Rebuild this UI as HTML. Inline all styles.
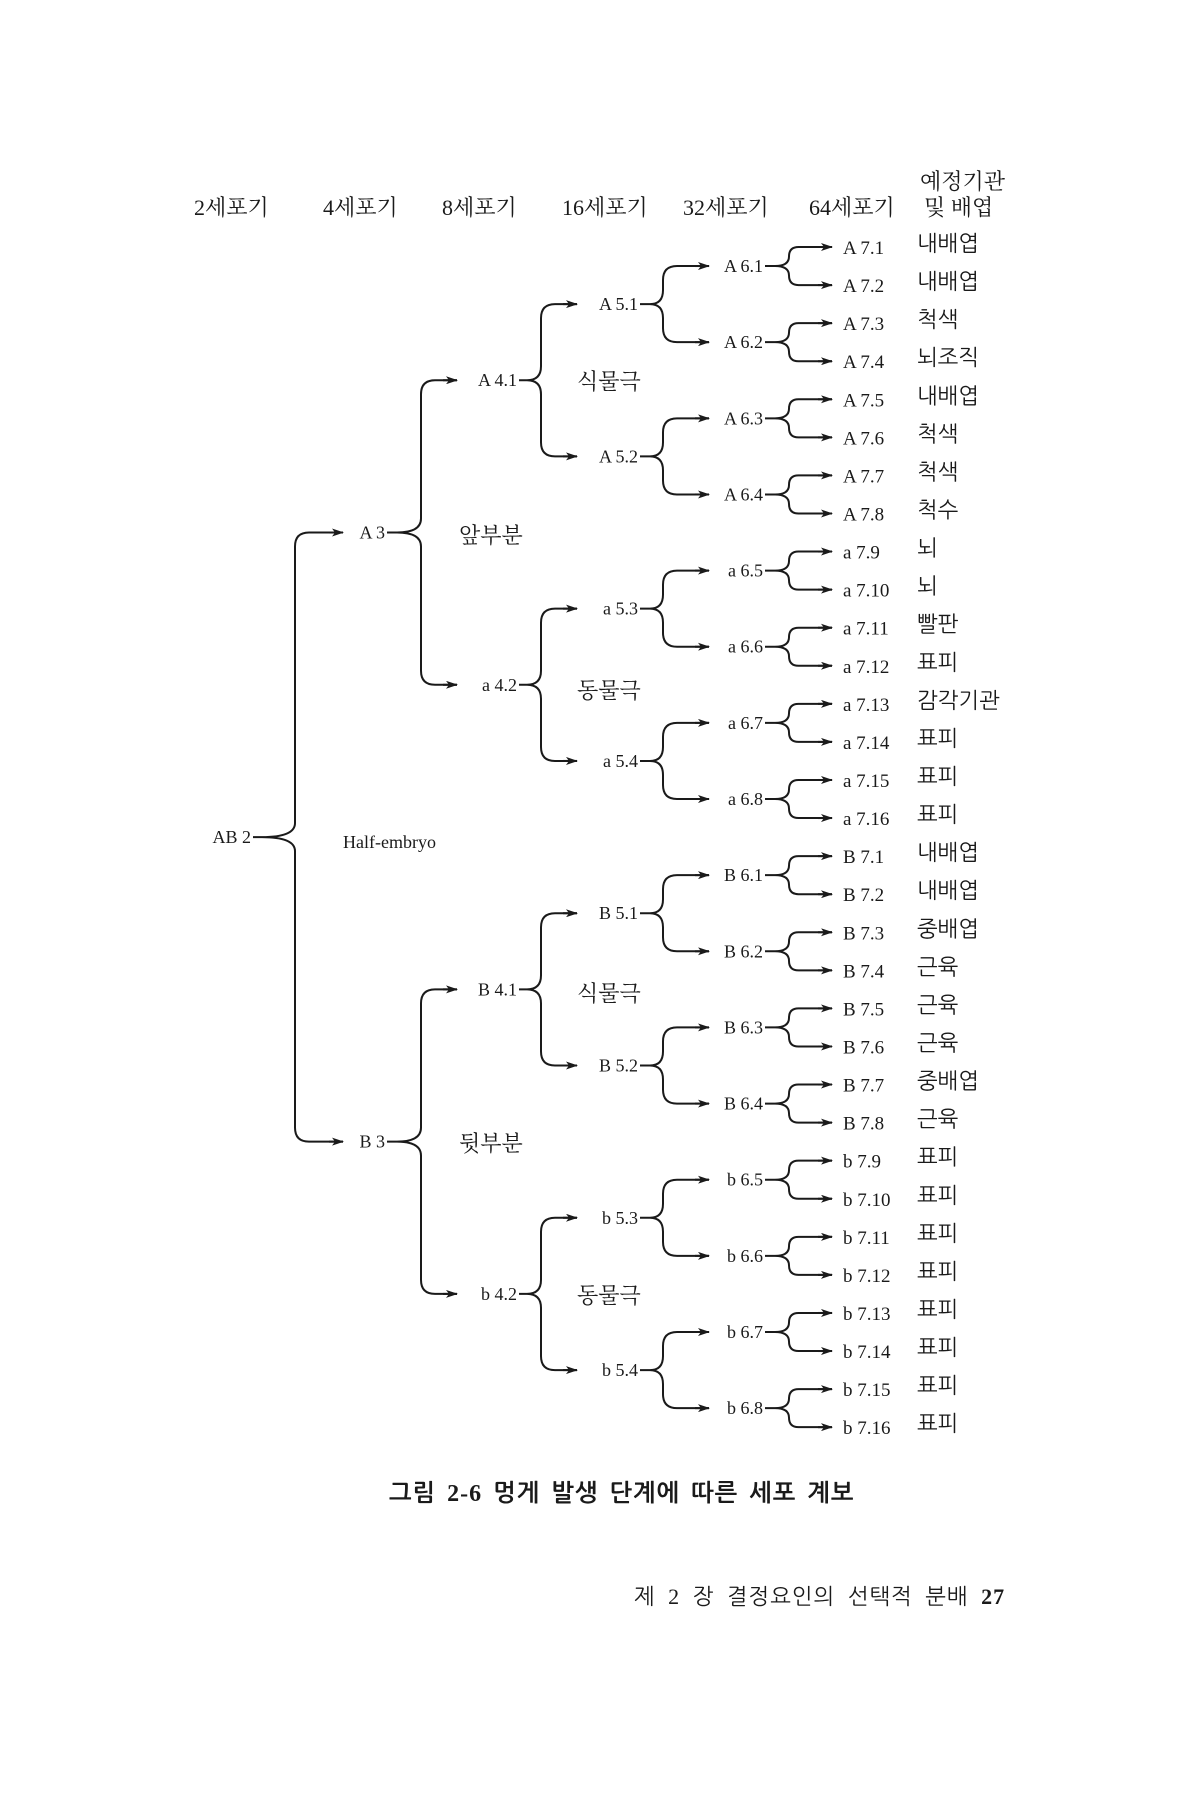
<!DOCTYPE html>
<html><head><meta charset="utf-8">
<style>
html,body{margin:0;padding:0;background:#fff;}
svg{display:block}
text{font-family:"Liberation Serif","Noto Serif CJK SC","Noto Sans CJK KR",serif;fill:#1a1a1a}
.k{font-family:"Liberation Serif","NanumGothic","Noto Sans CJK KR",serif}
</style></head>
<body>
<svg id="s" width="1200" height="1800" viewBox="0 0 1200 1800" xmlns="http://www.w3.org/2000/svg">
<defs><marker id="ar" markerWidth="12" markerHeight="8" refX="11" refY="4" orient="auto" markerUnits="userSpaceOnUse"><path d="M0,0 L12,4 L0,8 L3,4z" fill="#1a1a1a"/></marker></defs>
<g transform="translate(0,4)">
<g class="k" font-size="22">
<text x="194" y="211">2세포기</text>
<text x="323" y="211">4세포기</text>
<text x="442" y="211">8세포기</text>
<text x="562" y="211">16세포기</text>
<text x="683" y="211">32세포기</text>
<text x="809" y="211">64세포기</text>
<text x="920" y="185">예정기관</text>
<text x="924" y="211">및 배엽</text>
<text x="459" y="539">앞부분</text>
<text x="459" y="1147">뒷부분</text>
<text x="577" y="385">식물극</text>
<text x="577" y="694">동물극</text>
<text x="577" y="997">식물극</text>
<text x="577" y="1299">동물극</text>
</g>
<text x="343" y="844" font-size="18">Half-embryo</text>
<text x="389" y="1497" font-size="24" font-weight="bold" class="k" letter-spacing="1" word-spacing="4">그림 2-6  멍게 발생 단계에 따른 세포 계보</text>
<text x="634" y="1600" font-size="22" class="k" letter-spacing="1" word-spacing="6">제 2 장  결정요인의 선택적 분배  <tspan font-weight="bold">27</tspan></text>
<g id="g"></g>
</g>
</svg>
<script>
var g=document.getElementById('g'),NS='http://www.w3.org/2000/svg';
function el(t,a,txt){var e=document.createElementNS(NS,t);for(var k in a)e.setAttribute(k,a[k]);if(txt)e.textContent=txt;g.appendChild(e);return e;}
function Y(i){return 243+i*38.07;}
var organs=["내배엽","내배엽","척색","뇌조직","내배엽","척색","척색","척수","뇌","뇌","빨판","표피","감각기관","표피","표피","표피","내배엽","내배엽","중배엽","근육","근육","근육","중배엽","근육","표피","표피","표피","표피","표피","표피","표피","표피"];
var geo={2:[251,262,295,343],3:[385,397,421,457],4:[517,527,541,577],5:[638,650,663,709],6:[763,775,789,832]};
function lbl(level,idx){
 var half=idx<(Math.pow(2,level-2))/2?0:1;
 var n=Math.pow(2,level-2), q=idx%(n/2), quarter=q<n/4;
 var pfx=half==0?(quarter?'A':'a'):(quarter?'B':'b');
 if(level==2)return 'AB 2';
 if(level==3)return (half==0?'A':'B')+' 3';
 return pfx+' '+level+'.'+(q+1);
}
function ny(level,idx){var span=Math.pow(2,7-level);return (Y(idx*span)+Y(idx*span+span-1))/2;}
for(var L=2;L<=6;L++){
 var n=Math.pow(2,L-2),G=geo[L];
 for(var i=0;i<n;i++){
  var y=ny(L,i),y1=ny(L+1,2*i),y2=ny(L+1,2*i+1);
  el('text',{x:G[0],y:y+6,'font-size':18,'text-anchor':'end'},lbl(L,i));
  var v=G[2],r=Math.min(14,(y2-y1)/4),t=G[1];
  var d='M'+(G[0]+2)+','+y+' L'+t+','+y+' Q'+v+','+y+' '+v+','+(y-r)+' L'+v+','+(y1+r)+' Q'+v+','+y1+' '+(v+r)+','+y1+' L'+G[3]+','+y1+
   ' M'+t+','+y+' Q'+v+','+y+' '+v+','+(y+r)+' L'+v+','+(y2-r)+' Q'+v+','+y2+' '+(v+r)+','+y2+' L'+G[3]+','+y2;
  el('path',{d:d,fill:'none',stroke:'#1a1a1a','stroke-width':2});
  el('line',{x1:G[3]-14,y1:y1,x2:G[3],y2:y1,stroke:'#1a1a1a','stroke-width':2,'marker-end':'url(#ar)'});
  el('line',{x1:G[3]-14,y1:y2,x2:G[3],y2:y2,stroke:'#1a1a1a','stroke-width':2,'marker-end':'url(#ar)'});
 }
}
for(var i=0;i<32;i++){
 var y=Y(i),oct=Math.floor(i/8),p=['A','a','B','b'][oct],num=(oct==1||oct==3)?i%8+9:i%8+1;
 el('text',{x:843,y:y+7,'font-size':19},p+' 7.'+num);
 el('text',{x:917,y:y+4,'font-size':22,'class':'k'},organs[i]);
}
</script>
</body></html>
